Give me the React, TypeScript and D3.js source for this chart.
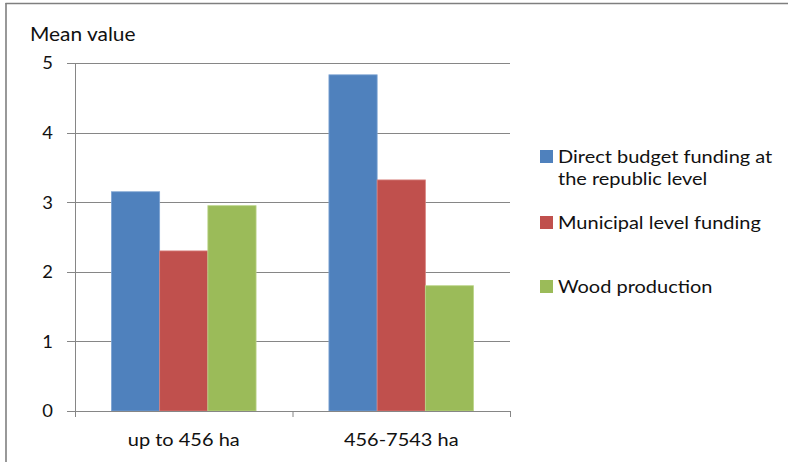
import React from "react";
import * as d3 from "d3";

const categories = ["up to 456 ha", "456-7543 ha"];
const seriesNames = [
  "Direct budget funding at the republic level",
  "Municipal level funding",
  "Wood production",
];
const directBudget = [3.15, 4.83];
const municipal = [2.3, 3.32];
const wood = [2.95, 1.8];
const yTicks = [0, 1, 2, 3, 4, 5];
const legendLines = [
  ["Direct budget funding at", "the republic level"],
  ["Municipal level funding"],
  ["Wood production"],
];
const colors = ["#4F81BD", "#C0504D", "#9BBB59"];
const strokeColors = ["#7da3d3", "#d8807d", "#bcd58a"];

const W = 788;
const H = 462;
const FONT = "Lato, 'Open Sans', sans-serif";
const SX = 1.11;
const TEXT = "#111";

export default function App() {
  const series = [directBudget, municipal, wood];
  const plot = { left: 75, right: 510, top: 63, bottom: 411 };
  const y = d3.scaleLinear().domain([0, 5]).range([plot.bottom, plot.top]);
  const x0 = d3
    .scaleBand<string>()
    .domain(categories)
    .range([plot.left, plot.right])
    .paddingInner(0)
    .paddingOuter(0);
  const innerPad = 0.335;
  const x1 = d3
    .scaleBand<number>()
    .domain(d3.range(series.length))
    .range([x0.bandwidth() * (innerPad / 2), x0.bandwidth() * (1 - innerPad / 2)]);

  const legendBase = [163, 229, 293];

  return (
    <svg
      width={W}
      height={H}
      style={{ position: "fixed", left: 0, top: 0, background: "#fff" }}
      fontFamily={FONT}
    >
      <rect x={0} y={0} width={W} height={H} fill="#fff" />
      {/* frame */}
      <line x1={5.5} x2={W} y1={3.5} y2={3.5} stroke="#7f7f7f" strokeWidth={1.6} />
      <line x1={6} x2={6} y1={3} y2={H} stroke="#7f7f7f" strokeWidth={1.6} />

      {/* axis title */}
      <text transform={`translate(30,41) scale(1.1,1)`} fontSize={19} fill={TEXT}>
        Mean value
      </text>

      {/* gridlines and y ticks */}
      {yTicks.map((t) => (
        <g key={t}>
          {t > 0 && (
            <line
              x1={plot.left}
              x2={plot.right}
              y1={Math.round(y(t)) + 0.5}
              y2={Math.round(y(t)) + 0.5}
              stroke="#868686"
              strokeWidth={1}
            />
          )}
          <line
            x1={plot.left - 8}
            x2={plot.left}
            y1={Math.round(y(t)) + 0.5}
            y2={Math.round(y(t)) + 0.5}
            stroke="#868686"
          />
          <text
            transform={`translate(53,${y(t)}) scale(1.05,1)`}
            dy="0.36em"
            textAnchor="end"
            fontSize={17.5}
            fill={TEXT}
          >
            {t}
          </text>
        </g>
      ))}

      {/* bars */}
      {categories.map((c, ci) => (
        <g key={c} transform={`translate(${x0(c)},0)`}>
          {series.map((s, si) => (
            <rect
              key={si}
              x={x1(si)}
              y={y(s[ci])}
              width={x1.bandwidth()}
              height={y(0) - y(s[ci])}
              fill={colors[si]}
              stroke={strokeColors[si]}
              strokeWidth={0.8}
            />
          ))}
        </g>
      ))}

      {/* y axis */}
      <line x1={plot.left + 0.5} x2={plot.left + 0.5} y1={plot.top} y2={plot.bottom + 6} stroke="#868686" />
      {/* x axis */}
      <line x1={plot.left - 8} x2={plot.right} y1={plot.bottom + 0.5} y2={plot.bottom + 0.5} stroke="#868686" />
      {[...categories.map((c) => x0(c) as number), plot.right].map((xv, i) => (
        <line key={i} x1={xv + 0.5} x2={xv + 0.5} y1={plot.bottom} y2={plot.bottom + 6} stroke="#868686" />
      ))}
      {categories.map((c) => (
        <text
          key={c}
          transform={`translate(${(x0(c) as number) + x0.bandwidth() / 2},445.5) scale(${SX},1)`}
          textAnchor="middle"
          fontSize={18}
          fill={TEXT}
        >
          {c}
        </text>
      ))}

      {/* legend */}
      {legendLines.map((lines, i) => (
        <g key={i} aria-label={seriesNames[i]}>
          <rect x={540} y={legendBase[i] - 13} width={13} height={13} fill={colors[i]} />
          {lines.map((ln, k) => (
            <text
              key={k}
              transform={`translate(558,${legendBase[i] + k * 21.7}) scale(${SX},1)`}
              fontSize={18}
              fill={TEXT}
            >
              {ln}
            </text>
          ))}
        </g>
      ))}
    </svg>
  );
}
